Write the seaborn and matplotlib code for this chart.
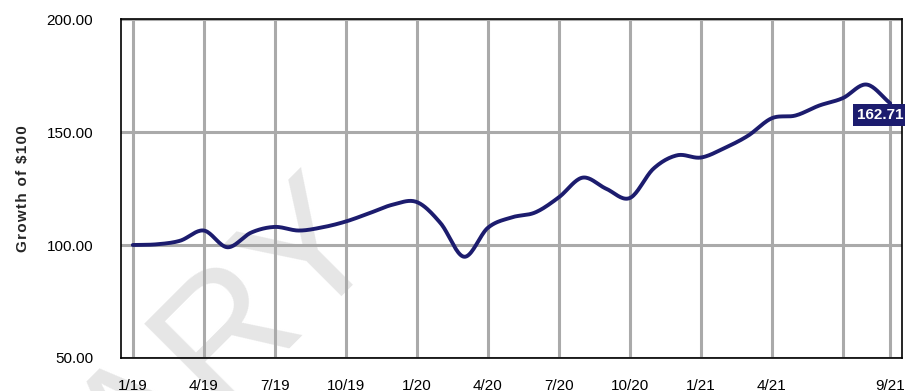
import numpy as np
import pandas as pd
import matplotlib
matplotlib.use("Agg")
import matplotlib.pyplot as plt
import seaborn as sns

# Monthly growth of $100, Jan 2019 through Sep 2021
months = ["1/19", "2/19", "3/19", "4/19", "5/19", "6/19", "7/19", "8/19", "9/19",
          "10/19", "11/19", "12/19", "1/20", "2/20", "3/20", "4/20", "5/20", "6/20",
          "7/20", "8/20", "9/20", "10/20", "11/20", "12/20", "1/21", "2/21", "3/21",
          "4/21", "5/21", "6/21", "7/21", "8/21", "9/21"]
growth = [100.0, 100.3, 101.9, 106.4, 99.0, 105.5, 108.0, 106.4, 107.8,
          110.4, 114.1, 117.9, 119.0, 109.7, 94.8, 107.6, 112.2, 114.4,
          121.1, 129.8, 124.9, 120.8, 133.8, 139.7, 138.7, 142.9, 148.4,
          156.1, 157.3, 161.7, 165.0, 171.0, 162.71]

tick_positions = [0, 3, 6, 9, 12, 15, 18, 21, 24, 27, 30, 32]
tick_labels = ["1/19", "4/19", "7/19", "10/19", "1/20", "4/20", "7/20", "10/20",
               "1/21", "4/21", "", "9/21"]
y_ticks = [50, 100, 150, 200]

LINE = "#1c1c6e"
GRID = "#aaaaaa"

sns.set_style("white")
plt.rcParams["font.family"] = ["Liberation Sans", "DejaVu Sans"]


def catmull_rom(y, steps=20):
    """Smooth curve through monthly points (Catmull-Rom cubic)."""
    y = np.asarray(y, dtype=float)
    n = len(y)
    yp = np.concatenate([[2 * y[0] - y[1]], y, [2 * y[-1] - y[-2]]])
    xs, ys = [], []
    for i in range(n - 1):
        p0, p1, p2, p3 = yp[i], yp[i + 1], yp[i + 2], yp[i + 3]
        t = np.linspace(0, 1, steps, endpoint=False)
        m1 = (p2 - p0) / 2
        m2 = (p3 - p1) / 2
        h00 = 2 * t**3 - 3 * t**2 + 1
        h10 = t**3 - 2 * t**2 + t
        h01 = -2 * t**3 + 3 * t**2
        h11 = t**3 - t**2
        xs.append(i + t)
        ys.append(h00 * p1 + h10 * m1 + h01 * p2 + h11 * m2)
    xs.append([n - 1])
    ys.append([y[-1]])
    return np.concatenate(xs), np.concatenate(ys)


sx, sy = catmull_rom(growth)
curve = pd.DataFrame({"month": sx, "growth": sy})

fig = plt.figure(figsize=(9.05, 3.91), dpi=100)
ax = fig.add_axes([0.1337, 0.0844, 0.8630, 0.8670])
ax.set_facecolor("none")

# faint watermark behind the plot
fig.text(385 / 905, 1 - 238 / 391, "PRELIMINARY", fontsize=126, color="#e6e6e6",
         rotation=45, rotation_mode="anchor", ha="right", va="baseline",
         zorder=-5)

sns.lineplot(data=curve, x="month", y="growth", ax=ax, color=LINE,
             linewidth=2.8, zorder=5)

ax.set_xlim(-0.5, 32.5)
ax.set_ylim(50, 200)
ax.set_xticks(tick_positions)
ax.set_xticklabels(tick_labels)
ax.set_yticks(y_ticks)
ax.set_yticklabels([f"{v:.2f}" for v in y_ticks])

ax.grid(True, color=GRID, linewidth=2.2, zorder=1)
ax.set_axisbelow(True)
ax.tick_params(axis="both", which="both", color=GRID, width=2.2, length=9,
               labelsize=11, labelcolor="black")
ax.tick_params(axis="x", pad=6)
ax.tick_params(axis="y", pad=11)

for side in ["left", "right", "top", "bottom"]:
    ax.spines[side].set_visible(True)
    ax.spines[side].set_color("black")
    ax.spines[side].set_linewidth(1.2)

ax.set_xlabel("")
ylab = "\u200a".join("Growth of $100")
ax.set_ylabel(ylab, fontsize=11, fontweight="bold", labelpad=12)

# end value tag
ax.annotate(f"{growth[-1]:.2f}", xy=(len(growth) - 1, growth[-1]),
            xytext=(-33, -5), textcoords="offset pixels",
            ha="left", va="top", fontsize=11, fontweight="bold",
            color="white", zorder=10, annotation_clip=False,
            bbox=dict(boxstyle="square,pad=0.25", fc=LINE, ec="none"))

fig.savefig("out.png", dpi=100)
